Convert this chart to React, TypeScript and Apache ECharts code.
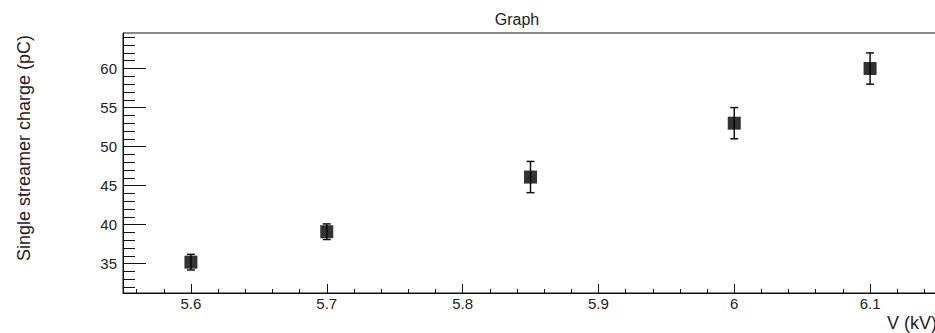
import React, { useEffect, useRef } from "react";
import * as echarts from "echarts";

// Measured streamer charge vs. applied voltage
const voltages = [5.6, 5.7, 5.85, 6.0, 6.1];
const charges = [35.2, 39.1, 46.1, 53, 60];
const chargeErrors = [1.0, 1.0, 2, 2, 2];

// Axis ticks
const xMajorTicks = [5.6, 5.7, 5.8, 5.9, 6, 6.1];
const xMinorTicks = Array.from({ length: 30 }, (_, i) => Math.round((5.56 + i * 0.02) * 100) / 100);
const yMajorTicks = [35, 40, 45, 50, 55, 60];
const yMinorTicks = Array.from({ length: 33 }, (_, i) => 32 + i);

const X_MIN = 5.55;
const X_MAX = 6.15;
const Y_MIN = 31.25;
const Y_MAX = 64.55;

const FONT = "'Liberation Sans', Arial, Helvetica, sans-serif";
const INK = "#222";
const LINE = "#111";

export default function App() {
  const ref = useRef<HTMLDivElement>(null);

  useEffect(() => {
    if (!ref.current) return;
    const chart = echarts.init(ref.current, undefined, { renderer: "svg" });

    const points = voltages.map((v, i) => [v, charges[i]]);
    const bars = voltages.map((v, i) => [v, charges[i], chargeErrors[i]]);

    const baseX = {
      type: "value" as const,
      min: X_MIN,
      max: X_MAX,
      gridIndex: 0,
      position: "bottom" as const,
      splitLine: { show: false },
    };
    const baseY = {
      type: "value" as const,
      min: Y_MIN,
      max: Y_MAX,
      gridIndex: 0,
      position: "left" as const,
      splitLine: { show: false },
    };

    chart.setOption({
      animation: false,
      grid: {
        left: 123,
        top: 33,
        width: 815,
        height: 260,
        show: true,
        borderColor: LINE,
        borderWidth: 1,
        backgroundColor: "transparent",
      },
      xAxis: [
        {
          ...baseX,
          axisLine: { show: true, lineStyle: { color: LINE, width: 1 } },
          axisTick: {
            show: true,
            inside: true,
            length: 9,
            customValues: xMajorTicks,
            lineStyle: { color: LINE, width: 1 },
          },
          axisLabel: {
            show: true,
            customValues: xMajorTicks,
            formatter: (v: number) => String(v),
            color: INK,
            fontFamily: FONT,
            fontSize: 15,
            margin: 3,
          },
        },
        {
          ...baseX,
          axisLine: { show: false },
          axisTick: {
            show: true,
            inside: true,
            length: 4,
            customValues: xMinorTicks,
            lineStyle: { color: LINE, width: 1 },
          },
          axisLabel: { show: false },
        },
      ],
      yAxis: [
        {
          ...baseY,
          axisLine: { show: true, lineStyle: { color: LINE, width: 1 } },
          axisTick: {
            show: true,
            inside: true,
            length: 23,
            customValues: yMajorTicks,
            lineStyle: { color: LINE, width: 1 },
          },
          axisLabel: {
            show: true,
            customValues: yMajorTicks,
            formatter: (v: number) => String(v),
            color: INK,
            fontFamily: FONT,
            fontSize: 15,
            margin: 6,
          },
        },
        {
          ...baseY,
          axisLine: { show: false },
          axisTick: {
            show: true,
            inside: true,
            length: 12,
            customValues: yMinorTicks,
            lineStyle: { color: LINE, width: 1 },
          },
          axisLabel: { show: false },
        },
      ],
      graphic: [
        {
          type: "text",
          x: 517,
          y: 19,
          style: {
            text: "Graph",
            fill: INK,
            font: `16px ${FONT}`,
            textAlign: "center",
            textVerticalAlign: "middle",
          },
        },
        {
          type: "text",
          x: 24,
          y: 148,
          rotation: Math.PI / 2,
          style: {
            text: "Single streamer charge (pC)",
            fill: INK,
            font: `18px ${FONT}`,
            textAlign: "center",
            textVerticalAlign: "middle",
          },
        },
        {
          type: "text",
          x: 937,
          y: 323,
          style: {
            text: "V (kV)",
            fill: INK,
            font: `18px ${FONT}`,
            textAlign: "right",
            textVerticalAlign: "middle",
          },
        },
      ],
      series: [
        {
          type: "custom",
          xAxisIndex: 0,
          yAxisIndex: 0,
          data: bars,
          z: 2,
          renderItem: (params: any, api: any) => {
            const x = api.value(0);
            const y = api.value(1);
            const e = api.value(2);
            const top = api.coord([x, y + e]);
            const bottom = api.coord([x, y - e]);
            const cap = 4;
            const style = { stroke: LINE, lineWidth: 1.5 };
            return {
              type: "group",
              children: [
                { type: "line", shape: { x1: top[0], y1: top[1], x2: bottom[0], y2: bottom[1] }, style },
                { type: "line", shape: { x1: top[0] - cap, y1: top[1], x2: top[0] + cap, y2: top[1] }, style },
                { type: "line", shape: { x1: bottom[0] - cap, y1: bottom[1], x2: bottom[0] + cap, y2: bottom[1] }, style },
              ],
            };
          },
        },
        {
          type: "scatter",
          xAxisIndex: 0,
          yAxisIndex: 0,
          data: points,
          symbol: "rect",
          symbolSize: 13,
          itemStyle: { color: "#000" },
          z: 3,
        },
      ],
    });

    return () => chart.dispose();
  }, []);

  return (
    <div
      style={{
        position: "fixed",
        left: 0,
        top: 0,
        width: 935,
        height: 333,
        overflow: "hidden",
        background: "#fff",
      }}
    >
      <div ref={ref} style={{ width: 950, height: 333 }} />
    </div>
  );
}
